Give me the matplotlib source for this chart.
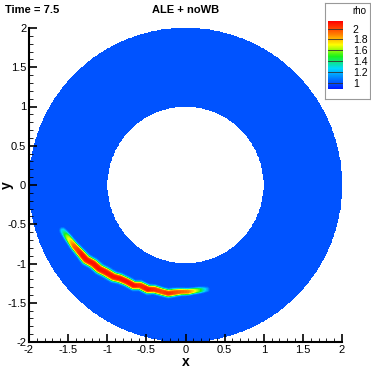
import numpy as np
import matplotlib.pyplot as plt
from matplotlib.colors import LinearSegmentedColormap, Normalize
from matplotlib.ticker import MultipleLocator
import matplotlib.cm as cm

plt.rcParams['font.family'] = ['Liberation Sans', 'DejaVu Sans']

# ridge of the density front
ridge_x = [-1.57, -1.51, -1.42, -1.33, -1.27, -1.18, -1.10, -1.02, -0.92, -0.84, -0.75, -0.66, -0.58,
           -0.48, -0.40, -0.30, -0.22, -0.15, -0.06, 0.03, 0.10, 0.18, 0.27]
ridge_y = [-0.58, -0.66, -0.78, -0.88, -0.95, -1.00, -1.07, -1.11, -1.17, -1.19, -1.23, -1.28, -1.28,
           -1.33, -1.33, -1.36, -1.38, -1.37, -1.36, -1.36, -1.35, -1.34, -1.33]
ridge_rho = [1.25, 1.6, 1.95, 2.1, 2.1, 2.1, 2.1, 2.1, 2.1, 2.1, 2.1, 2.1, 2.05,
             2.1, 2.05, 2.0, 2.05, 2.0, 1.95, 1.9, 1.75, 1.5, 1.15]
ridge_w = [0.03, 0.035, 0.04, 0.045, 0.05, 0.05, 0.05, 0.05, 0.05, 0.048, 0.045, 0.045, 0.045,
           0.045, 0.042, 0.04, 0.04, 0.04, 0.035, 0.033, 0.03, 0.03, 0.025]

r_inner, r_outer = 1.0, 2.0
rho_levels = np.linspace(0.89, 2.14, 60)
cbar_ticks = [1, 1.2, 1.4, 1.6, 1.8, 2]

cmap = LinearSegmentedColormap.from_list('tec', [
    (0.00, (0.0, 0.10, 1.0)),
    (0.08, (0.0, 0.30, 1.0)),
    (0.30, (0.0, 0.85, 1.0)),
    (0.48, (0.1, 0.95, 0.1)),
    (0.65, (1.0, 1.0, 0.0)),
    (0.82, (1.0, 0.45, 0.0)),
    (1.00, (1.0, 0.0, 0.0)),
])
norm = Normalize(vmin=0.89, vmax=2.14)

# density field on a grid: background 1 plus a thin band along the ridge
xg = np.linspace(-2, 2, 500)
X, Y = np.meshgrid(xg, xg)
R = np.hypot(X, Y)
rho = np.ones_like(X)
t = np.linspace(0, len(ridge_x) - 1, 500)
idx = np.arange(len(ridge_x))
px = np.interp(t, idx, ridge_x)
py = np.interp(t, idx, ridge_y)
pr = np.interp(t, idx, ridge_rho)
pw = np.interp(t, idx, ridge_w)
for a, b, c, w in zip(px, py, pr, pw):
    d2 = (X - a) ** 2 + (Y - b) ** 2
    rho = np.maximum(rho, 1 + (c - 1) * np.exp(-(d2 / w ** 2) ** 1.5))
rho = np.ma.masked_where((R < r_inner) | (R > r_outer), rho)

fig = plt.figure(figsize=(3.71, 3.71), dpi=100)
ax = fig.add_axes([29 / 371, 29 / 371, 313 / 371, 314 / 371])
ax.contourf(X, Y, rho, levels=rho_levels, cmap=cmap, norm=norm, extend='both')
ax.set_xlim(-2, 2)
ax.set_ylim(-2, 2)
ax.spines['top'].set_visible(False)
ax.spines['right'].set_visible(False)
ax.spines['left'].set_linewidth(1.5)
ax.spines['bottom'].set_linewidth(1.5)
ax.xaxis.set_major_locator(MultipleLocator(0.5))
ax.yaxis.set_major_locator(MultipleLocator(0.5))
ax.xaxis.set_minor_locator(MultipleLocator(0.1))
ax.yaxis.set_minor_locator(MultipleLocator(0.1))
ax.tick_params(which='major', direction='in', length=6, width=1.2, labelsize=8, pad=2)
ax.tick_params(which='minor', direction='in', length=3, width=0.6)
ax.xaxis.set_major_formatter(plt.FuncFormatter(lambda v, p: ('%g' % v)))
ax.yaxis.set_major_formatter(plt.FuncFormatter(lambda v, p: ('%g' % v)))
ax.set_xlabel('x', fontsize=10, fontweight='bold', labelpad=0)
ax.set_ylabel('y', fontsize=10, fontweight='bold')
ax.yaxis.set_label_coords(-0.047, 0.5)

fig.text(5 / 371, 1 - 10 / 371, 'Time = 7.5', fontsize=8, fontweight='bold', va='center', ha='left')
fig.text(186 / 371, 1 - 10 / 371, 'ALE + noWB', fontsize=8, fontweight='bold', va='center', ha='center')

# legend box
frame = fig.add_axes([325 / 371, 1 - 99 / 371, 45 / 371, 96 / 371])
frame.set_xticks([])
frame.set_yticks([])
for s in frame.spines.values():
    s.set_edgecolor('#999999')
    s.set_linewidth(0.8)
frame.text(0.92, 0.92, 'rho', fontsize=7, ha='right', va='center', transform=frame.transAxes)

cax = fig.add_axes([328 / 371, 1 - 89 / 371, 15 / 371, 68 / 371])
sm = cm.ScalarMappable(norm=norm, cmap=cmap)
cb = fig.colorbar(sm, cax=cax)
cb.outline.set_visible(False)
cb.set_ticks(cbar_ticks)
cb.ax.set_yticklabels(['1', '1.2', '1.4', '1.6', '1.8', '2'])
cb.ax.tick_params(length=0, labelsize=7.5, pad=7)
for v in cbar_ticks:
    cax.axhline(v, color='#333333', lw=0.6)

fig.savefig('out.png', dpi=100)
